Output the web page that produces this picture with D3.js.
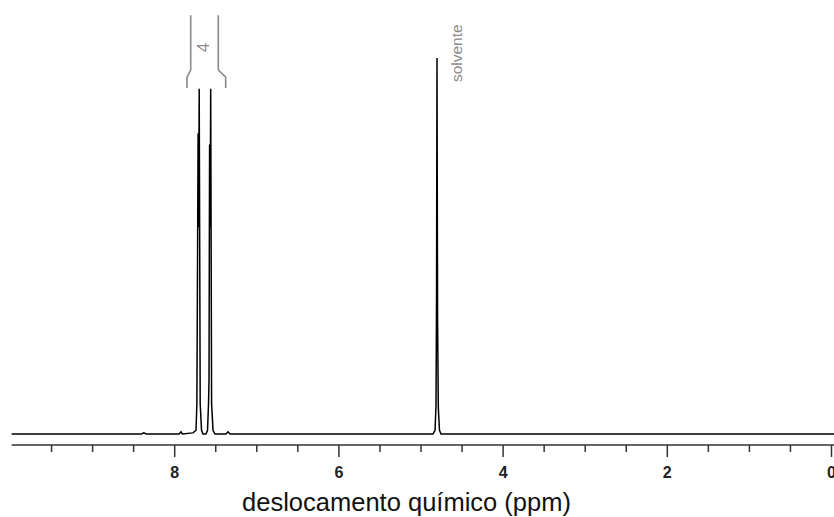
<!DOCTYPE html>
<html>
<head>
<meta charset="utf-8">
<script src="https://cdn.jsdelivr.net/npm/d3@7"></script>
<style>
  html, body { margin: 0; padding: 0; background: #fff; }
  svg { display: block; }
</style>
</head>
<body>
<svg id="chart" width="834" height="517"></svg>
<script>
// ---- data ----
const tracePPM = [9.98, 8.40, 8.37, 8.34, 7.94, 7.917, 7.90, 7.771, 7.734, 7.724, 7.7186, 7.7089, 7.7028, 7.6955, 7.6833, 7.667, 7.649,
                  7.613, 7.594, 7.582, 7.5761, 7.5688, 7.5627, 7.5554, 7.5445, 7.527, 7.503, 7.37, 7.345, 7.32,
                  4.848, 4.823, 4.811, 4.805, 4.799, 4.792, 4.783, 4.769, 4.750, -0.04];
const traceIntensity = [0, 0, 0.3, 0, 0, 0.6, 0, 0.3, 1, 8, 32, 80, 55, 91.8, 8, 1, 0,
                        0, 1, 8, 14, 77, 55, 91.8, 8, 1, 0, 0, 0.6, 0,
                        0, 1, 7.7, 34, 100, 30, 7, 1, 0, 0];
const minorTicks = [9.5, 9, 8.5, 7.5, 7, 6.5, 5.5, 5, 4.5, 3.5, 3, 2.5, 1.5, 1, 0.5];
const majorTicks = [8, 6, 4, 2, 0];
const majorLabels = ["8", "6", "4", "2", "0"];
const xTitle = "deslocamento químico (ppm)";
// integral bracket (ppm / intensity units)
const integralInner = [7.799, 7.463];
const integralOuter = [7.844, 7.373];
const integralLevels = [111.4, 96.8, 94.9, 92.0];
const integralLabel = "4";
const solventLabel = "solvente";
const solventPPM = 4.799;

// ---- scales ----
const svg = d3.select("#chart");
const x = d3.scaleLinear().domain([10, 0]).range([10, 831]);
const y = d3.scaleLinear().domain([0, 100]).range([434, 58]);
const axisY = 445;

// spectrum
const pts = tracePPM.map((p, i) => [p, traceIntensity[i]]);
const line = d3.line().x(d => x(d[0])).y(d => y(d[1]));
svg.append("path").datum(pts)
  .attr("d", line).attr("fill", "none")
  .attr("stroke", "#000").attr("stroke-width", 1.5)
  .attr("stroke-linejoin", "miter");

// axis
const gAxis = svg.append("g").attr("transform", `translate(0,${axisY})`);
gAxis.append("line").attr("x1", x(9.98)).attr("x2", 834)
  .attr("y1", 0).attr("y2", 0).attr("stroke", "#333").attr("stroke-width", 1.6);
const minorAxis = d3.axisBottom(x).tickValues(minorTicks).tickSize(7).tickFormat("");
const gMinor = gAxis.append("g").call(minorAxis);
gMinor.select(".domain").remove();
gMinor.selectAll("line").attr("stroke", "#333").attr("stroke-width", 1.5);
const majorAxis = d3.axisBottom(x).tickValues(majorTicks).tickSize(12).tickPadding(9.7)
  .tickFormat((d, i) => majorLabels[i]);
const gMajor = gAxis.append("g").call(majorAxis);
gMajor.select(".domain").remove();
gMajor.selectAll("line").attr("stroke", "#333").attr("stroke-width", 1.5);
gMajor.selectAll("text").attr("font-family", "Liberation Sans, Arial, sans-serif")
  .attr("font-size", 16).attr("font-weight", "bold").attr("fill", "#222");

// axis title
svg.append("text").attr("x", 406.5).attr("y", 511)
  .attr("text-anchor", "middle")
  .attr("font-family", "Liberation Sans, Arial, sans-serif")
  .attr("font-size", 25.5).attr("fill", "#111").text(xTitle);

// integral bracket
const gray = "#8a8a8a";
[0, 1].forEach(k => {
  const br = [
    [integralInner[k], integralLevels[0]],
    [integralInner[k], integralLevels[1]],
    [integralOuter[k], integralLevels[2]],
    [integralOuter[k], integralLevels[3]]
  ];
  svg.append("path").datum(br).attr("d", line)
    .attr("fill", "none").attr("stroke", gray).attr("stroke-width", 1.6);
});
const midPPM = (integralInner[0] + integralInner[1]) / 2;
svg.append("text")
  .attr("transform", `translate(${x(midPPM) + 5},${y(102.8)}) rotate(-90)`)
  .attr("text-anchor", "middle")
  .attr("font-family", "Liberation Sans, Arial, sans-serif")
  .attr("font-size", 17).attr("fill", gray).text(integralLabel);

// solvent label
svg.append("text")
  .attr("transform", `translate(${x(solventPPM) + 24.5},${y(93.6)}) rotate(-90)`)
  .attr("text-anchor", "start")
  .attr("font-family", "Liberation Sans, Arial, sans-serif")
  .attr("font-size", 15.5).attr("fill", gray).text(solventLabel);
</script>
</body>
</html>
